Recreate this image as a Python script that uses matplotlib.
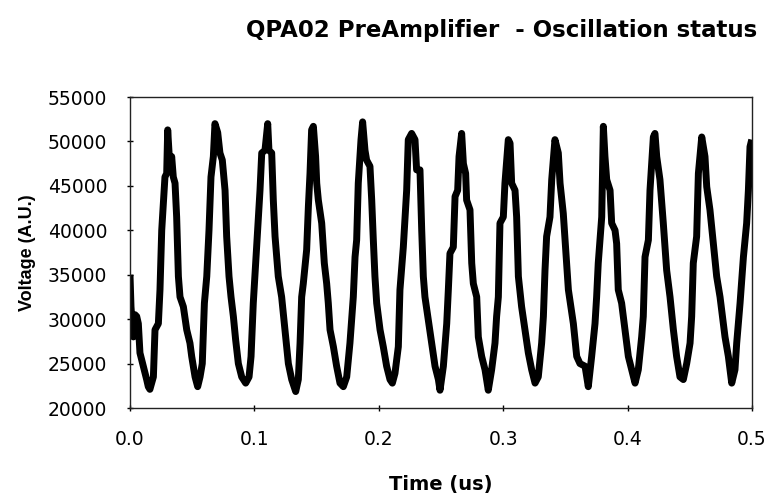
import matplotlib
matplotlib.use("Agg")
import matplotlib.pyplot as plt

plt.rcParams['font.family'] = ['DejaVu Sans']

title = "QPA02 PreAmplifier  - Oscillation status"
x_label = "Time (us)"
y_label = "Voltage (A.U.)"
x_ticks = [0.0, 0.1, 0.2, 0.3, 0.4, 0.5]
y_ticks = [20000, 25000, 30000, 35000, 40000, 45000, 50000, 55000]

time_us = [
    0.0000, 0.0008, 0.0020, 0.0027, 0.0040, 0.0054, 0.0067, 0.0080, 0.0107, 0.0134,
    0.0147, 0.0160, 0.0174, 0.0188, 0.0201, 0.0228, 0.0241, 0.0255, 0.0268, 0.0281,
    0.0295, 0.0303, 0.0314, 0.0322, 0.0335, 0.0348, 0.0362, 0.0375, 0.0389, 0.0402,
    0.0429, 0.0456, 0.0482, 0.0496, 0.0523, 0.0544, 0.0563, 0.0581, 0.0598, 0.0617,
    0.0635, 0.0651, 0.0670, 0.0683, 0.0705, 0.0723, 0.0742, 0.0764, 0.0777, 0.0796,
    0.0812, 0.0831, 0.0849, 0.0871, 0.0898, 0.0930, 0.0957, 0.0973, 0.0991, 0.1010,
    0.1032, 0.1045, 0.1059, 0.1085, 0.1107, 0.1117, 0.1139, 0.1152, 0.1166, 0.1192,
    0.1219, 0.1246, 0.1273, 0.1300, 0.1332, 0.1353, 0.1367, 0.1380, 0.1393, 0.1420,
    0.1434, 0.1447, 0.1460, 0.1474, 0.1492, 0.1501, 0.1514, 0.1541, 0.1562, 0.1581,
    0.1594, 0.1608, 0.1635, 0.1661, 0.1688, 0.1715, 0.1742, 0.1768, 0.1795, 0.1809,
    0.1822, 0.1835, 0.1857, 0.1870, 0.1889, 0.1902, 0.1929, 0.1943, 0.1956, 0.1969,
    0.1983, 0.2010, 0.2036, 0.2063, 0.2090, 0.2109, 0.2130, 0.2157, 0.2170, 0.2197,
    0.2211, 0.2224, 0.2237, 0.2264, 0.2291, 0.2304, 0.2331, 0.2345, 0.2358, 0.2371,
    0.2398, 0.2425, 0.2452, 0.2479, 0.2492, 0.2519, 0.2546, 0.2559, 0.2572, 0.2599,
    0.2613, 0.2634, 0.2645, 0.2666, 0.2680, 0.2698, 0.2706, 0.2733, 0.2747, 0.2760,
    0.2787, 0.2800, 0.2827, 0.2854, 0.2880, 0.2907, 0.2934, 0.2947, 0.2961, 0.2974,
    0.3001, 0.3014, 0.3041, 0.3055, 0.3068, 0.3095, 0.3108, 0.3122, 0.3148, 0.3175,
    0.3202, 0.3229, 0.3256, 0.3282, 0.3309, 0.3323, 0.3336, 0.3349, 0.3376, 0.3390,
    0.3416, 0.3443, 0.3457, 0.3483, 0.3510, 0.3524, 0.3564, 0.3591, 0.3617, 0.3658,
    0.3684, 0.3711, 0.3738, 0.3751, 0.3764, 0.3792, 0.3805, 0.3818, 0.3832, 0.3859,
    0.3872, 0.3899, 0.3912, 0.3925, 0.3952, 0.3979, 0.4006, 0.4033, 0.4060, 0.4086,
    0.4113, 0.4126, 0.4140, 0.4167, 0.4180, 0.4207, 0.4220, 0.4234, 0.4260, 0.4287,
    0.4314, 0.4341, 0.4368, 0.4394, 0.4421, 0.4448, 0.4475, 0.4502, 0.4515, 0.4528,
    0.4555, 0.4569, 0.4596, 0.4622, 0.4636, 0.4662, 0.4689, 0.4716, 0.4743, 0.4783,
    0.4810, 0.4837, 0.4863, 0.4877, 0.4904, 0.4931, 0.4957, 0.4971, 0.4984, 0.4998,
]

voltage = [
    35000, 31400, 29000, 28000, 30500, 30300, 29500, 26200, 24700, 23200,
    22400, 22100, 22800, 23500, 28800, 29500, 33300, 40000, 43000, 46000,
    46400, 51300, 48700, 47200, 48300, 46000, 45300, 41500, 34800, 32500,
    31400, 28800, 27300, 25800, 23500, 22400, 23500, 25000, 31800, 34800,
    40000, 46000, 48300, 52000, 51000, 48700, 47900, 44500, 39300, 34800,
    32500, 30300, 27700, 25000, 23500, 22800, 23500, 25800, 31800, 36300,
    41500, 44500, 48700, 49000, 52000, 49000, 48700, 43400, 39300, 34800,
    32500, 28800, 25000, 23200, 21850, 23200, 27300, 32500, 34000, 37800,
    42700, 46400, 51300, 51700, 48300, 45300, 43400, 40800, 36300, 34000,
    31800, 28800, 26900, 24700, 22800, 22400, 23500, 27300, 32500, 37000,
    38900, 45300, 50200, 52200, 49000, 47900, 47200, 43400, 38900, 34800,
    31800, 28800, 26900, 24700, 23200, 22800, 23900, 26900, 33300, 38100,
    41500, 44500, 50200, 50900, 50200, 46800, 46800, 40000, 34800, 32500,
    29900, 27300, 24700, 23200, 22000, 24700, 29500, 33300, 37400, 38100,
    43800, 44500, 48300, 50900, 47500, 46400, 43400, 42300, 36300, 34000,
    32500, 28000, 25800, 24300, 22000, 24300, 27300, 30300, 32500, 40800,
    41500, 45300, 50200, 49800, 45300, 44500, 41500, 34800, 31400, 28800,
    26200, 24300, 22800, 23500, 27300, 30300, 35500, 39300, 41500, 45700,
    50200, 48700, 45300, 41900, 36300, 33300, 29500, 25800, 25000, 24700,
    22400, 25800, 29500, 32500, 36300, 41500, 51700, 48300, 45700, 44500,
    40800, 40000, 38500, 33300, 31800, 28800, 25800, 24300, 22800, 24300,
    28000, 30300, 37000, 38900, 44500, 50500, 50900, 48300, 45700, 40800,
    35500, 32500, 28800, 25800, 23500, 23200, 25000, 27300, 30300, 36300,
    39300, 46400, 50500, 48300, 44900, 42300, 38500, 34800, 32500, 28000,
    25800, 22800, 24300, 27300, 31800, 37000, 40800, 44500, 49400, 50200,
]

fig = plt.figure(figsize=(7.66, 4.97), dpi=100)
ax = fig.add_axes([130 / 766, 1 - 408 / 497, 622 / 766, 311 / 497])

ax.plot(time_us, voltage, color='black', linewidth=5.0,
        solid_joinstyle='round', solid_capstyle='butt')

ax.set_xlim(0, 0.5)
ax.set_ylim(20000, 55000)
ax.set_xticks(x_ticks)
ax.set_xticklabels([f"{v:.1f}" for v in x_ticks])
ax.set_yticks(y_ticks)
ax.set_yticklabels([str(v) for v in y_ticks])

for s in ax.spines.values():
    s.set_linewidth(1.0)
    s.set_color('#222222')

ax.tick_params(axis='both', direction='inout', length=5, width=1,
               labelsize=13.5, colors='black')
ax.tick_params(axis='y', pad=14)
ax.tick_params(axis='x', pad=13)

ax.set_xlabel(x_label, fontsize=14, fontweight='bold', labelpad=19)
ax.set_ylabel(y_label, fontsize=13, fontweight='bold', labelpad=8,
              family=['Liberation Sans', 'DejaVu Sans'])

fig.text(757 / 766, 1 - 30 / 497, title, ha='right', va='center',
         fontsize=16.5, fontweight='bold')

fig.savefig("out.png", dpi=100)
